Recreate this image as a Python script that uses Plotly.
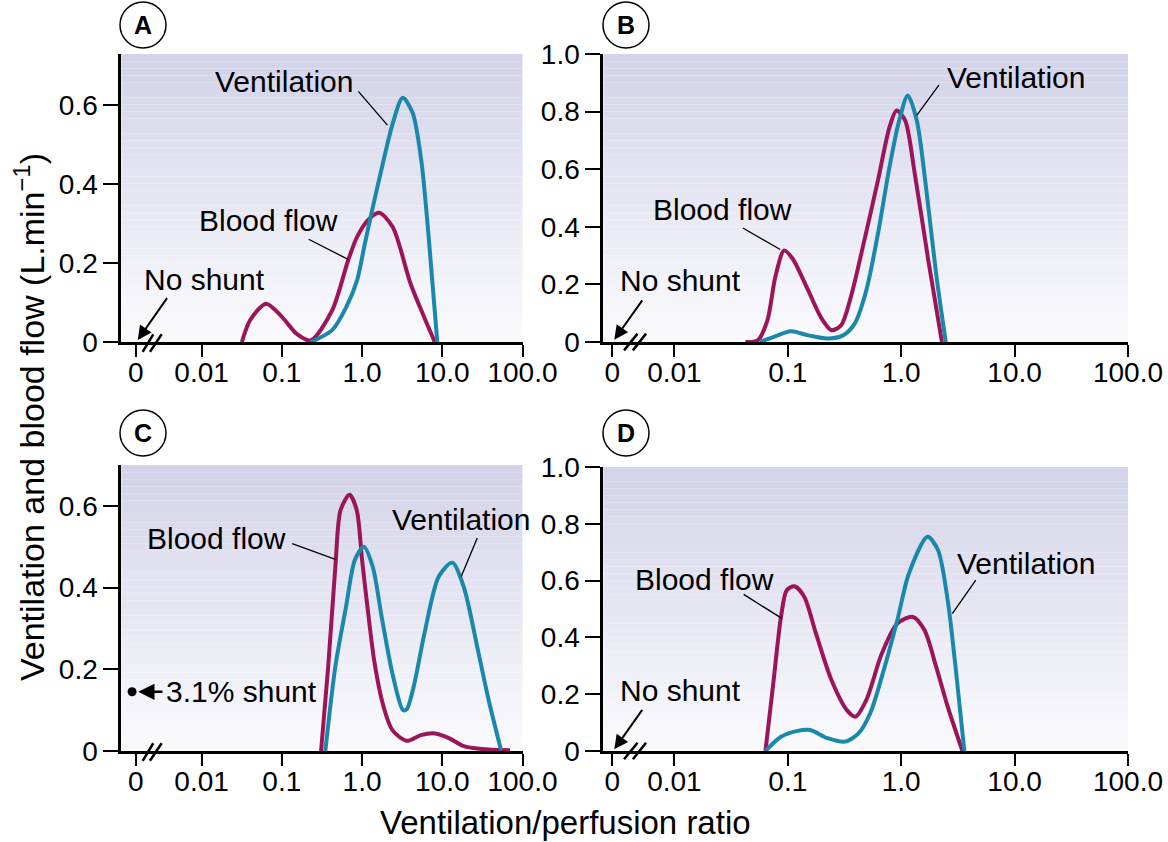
import plotly.graph_objects as go

W, H = 1168, 842

# ---------------- data (x = log10 of ventilation/perfusion ratio) ----------------
x_tick_labels = ["0", "0.01", "0.1", "1.0", "10.0", "100.0"]
x_ticks_ac = [-2.82, -2, -1, 0, 1, 2]
x_ticks_bd = [-2.547, -2, -1, 0, 1, 2]
y_ticks_ac = [0, 0.2, 0.4, 0.6]
y_labels_ac = ["0", "0.2", "0.4", "0.6"]
y_ticks_bd = [0, 0.2, 0.4, 0.6, 0.8, 1.0]
y_labels_bd = ["0", "0.2", "0.4", "0.6", "0.8", "1.0"]

# Panel A
a_blood_x = [-1.498, -1.396, -1.196, -0.996, -0.818, -0.64, -0.373, -0.173, -0.062, 0.071, 0.213, 0.382, 0.604, 0.782, 0.907]
a_blood_y = [0, 0.055, 0.097, 0.063, 0.021, 0.004, 0.080, 0.207, 0.266, 0.308, 0.327, 0.291, 0.148, 0.059, 0]
a_vent_x = [-0.64, -0.373, -0.196, -0.062, 0.027, 0.116, 0.249, 0.382, 0.507, 0.63, 0.738, 0.827, 0.938]
a_vent_y = [0, 0.030, 0.089, 0.156, 0.241, 0.325, 0.443, 0.553, 0.618, 0.580, 0.460, 0.274, 0]

# Panel B
b_blood_x = [-1.374, -1.265, -1.18, -1.11, -1.032, -0.957, -0.82, -0.701, -0.615, -0.53, -0.444, -0.325, -0.205, -0.103, -0.041, 0.034, 0.12, 0.239, 0.359]
b_blood_y = [0, 0.006, 0.075, 0.226, 0.318, 0.289, 0.179, 0.081, 0.041, 0.058, 0.156, 0.353, 0.561, 0.746, 0.804, 0.770, 0.584, 0.284, 0]
b_vent_x = [-1.248, -1.128, -0.974, -0.82, -0.65, -0.513, -0.41, -0.308, -0.205, -0.103, -0.017, 0.058, 0.137, 0.222, 0.308, 0.393]
b_vent_y = [0, 0.017, 0.037, 0.023, 0.012, 0.023, 0.064, 0.179, 0.376, 0.608, 0.770, 0.856, 0.770, 0.527, 0.237, 0]

# Panel C
c_blood_x = [-0.511, -0.422, -0.333, -0.267, -0.156, -0.067, 0.0, 0.067, 0.156, 0.267, 0.378, 0.556, 0.733, 0.911, 1.089, 1.267, 1.489, 1.844]
c_blood_y = [0, 0.207, 0.451, 0.590, 0.627, 0.590, 0.468, 0.353, 0.215, 0.109, 0.051, 0.025, 0.039, 0.043, 0.031, 0.012, 0.005, 0.002]
c_vent_x = [-0.458, -0.333, -0.2, -0.089, 0.022, 0.133, 0.244, 0.378, 0.511, 0.556, 0.644, 0.778, 0.956, 1.124, 1.267, 1.444, 1.578, 1.733]
c_vent_y = [0, 0.207, 0.353, 0.468, 0.500, 0.451, 0.329, 0.190, 0.100, 0.102, 0.158, 0.288, 0.427, 0.461, 0.402, 0.247, 0.125, 0.002]
c_shunt_x = [-2.867]
c_shunt_y = [0.145]

# Panel D
d_blood_x = [-1.197, -1.128, -1.06, -1.009, -0.94, -0.855, -0.752, -0.615, -0.479, -0.403, -0.308, -0.171, -0.034, 0.103, 0.205, 0.308, 0.41, 0.54]
d_blood_y = [0, 0.238, 0.472, 0.566, 0.580, 0.543, 0.414, 0.250, 0.144, 0.121, 0.179, 0.343, 0.449, 0.472, 0.426, 0.297, 0.156, 0]
d_vent_x = [-1.197, -1.06, -0.923, -0.803, -0.65, -0.496, -0.376, -0.274, -0.171, -0.034, 0.068, 0.232, 0.325, 0.41, 0.479, 0.557]
d_vent_y = [0, 0.050, 0.070, 0.074, 0.045, 0.033, 0.062, 0.132, 0.261, 0.461, 0.625, 0.754, 0.707, 0.531, 0.297, 0]

BLOOD = "#9b1558"
VENT = "#1a88ab"
FONT = "Liberation Sans, Arial, Helvetica, sans-serif"

# panel geometry in pixels: (x0, x1), (ytop, ybottom), x range, y range
panels = {
    "A": dict(px=(121.4, 522.5), py=(54, 342), xr=(-3, 2), yr=(0, 0.729), xt=x_ticks_ac, yt=y_ticks_ac, yl=y_labels_ac, ax=""),
    "B": dict(px=(603.4, 1128), py=(54, 342), xr=(-2.626, 2), yr=(0, 1.0), xt=x_ticks_bd, yt=y_ticks_bd, yl=y_labels_bd, ax="2"),
    "C": dict(px=(121.4, 522.5), py=(465, 751), xr=(-3, 2), yr=(0, 0.70), xt=x_ticks_ac, yt=y_ticks_ac, yl=y_labels_ac, ax="3"),
    "D": dict(px=(603.4, 1128), py=(467, 751), xr=(-2.626, 2), yr=(0, 1.0), xt=x_ticks_bd, yt=y_ticks_bd, yl=y_labels_bd, ax="4"),
}

curves = {
    "A": [(a_blood_x, a_blood_y, BLOOD), (a_vent_x, a_vent_y, VENT)],
    "B": [(b_blood_x, b_blood_y, BLOOD), (b_vent_x, b_vent_y, VENT)],
    "C": [(c_blood_x, c_blood_y, BLOOD), (c_vent_x, c_vent_y, VENT)],
    "D": [(d_blood_x, d_blood_y, BLOOD), (d_vent_x, d_vent_y, VENT)],
}

fig = go.Figure()
shapes = []
annotations = []

def to_paper(p, x, y):
    (x0, x1), (yt, yb) = p["px"], p["py"]
    fx = (x - p["xr"][0]) / (p["xr"][1] - p["xr"][0])
    fy = (y - p["yr"][0]) / (p["yr"][1] - p["yr"][0])
    return (x0 + fx * (x1 - x0)) / W, 1 - (yb - fy * (yb - yt)) / H

for key, p in panels.items():
    ax = p["ax"]
    xa = "xaxis" + ax
    ya = "yaxis" + ax
    (x0, x1), (yt, yb) = p["px"], p["py"]
    fig.update_layout(**{
        xa: dict(domain=[x0 / W, x1 / W], range=list(p["xr"]), anchor="y" + ax, automargin=False,
                 tickvals=p["xt"], ticktext=x_tick_labels, ticks="outside", ticklen=12,
                 tickwidth=1.5, tickcolor="black", showline=True, linewidth=3, linecolor="black",
                 showgrid=False, zeroline=False, ticklabelstandoff=-9,
                 tickfont=dict(size=28, color="black", family=FONT)),
        ya: dict(domain=[1 - yb / H, 1 - yt / H], range=list(p["yr"]), anchor="x" + ax, automargin=False,
                 tickvals=p["yt"], ticktext=p["yl"], ticks="outside", ticklen=15,
                 tickwidth=1.5, tickcolor="black", showline=True, linewidth=3, linecolor="black",
                 showgrid=False, zeroline=False, tickfont=dict(size=28, color="black", family=FONT)),
    })
    # gradient background
    n = 40
    for i in range(n):
        t = i / (n - 1)
        r = int(round(250 - (250 - 211) * t))
        g = int(round(250 - (250 - 211) * t))
        b = int(round(253 - (253 - 233) * t))
        shapes.append(dict(type="rect", xref="x" + ax + " domain", yref="y" + ax + " domain",
                           x0=0, x1=1, y0=i / n, y1=(i + 1) / n, layer="below",
                           line=dict(width=0), fillcolor=f"rgb({r},{g},{b})"))
    for cx, cy, col in curves[key]:
        fig.add_trace(go.Scatter(x=cx, y=cy, mode="lines", xaxis="x" + ax, yaxis="y" + ax,
                                 line=dict(color=col, width=4, shape="spline", smoothing=0.8),
                                 hoverinfo="skip", showlegend=False))

# shunt marker in panel C
fig.add_trace(go.Scatter(x=c_shunt_x, y=c_shunt_y, mode="markers", xaxis="x3", yaxis="y3",
                         marker=dict(color="black", size=9), cliponaxis=False, showlegend=False))

# axis break marks
breaks = {"A": [(-2.735, -0.025, -2.603, 0.0195), (-2.644, -0.025, -2.498, 0.0195)],
          "C": [(-2.735, -0.024, -2.603, 0.019), (-2.644, -0.024, -2.498, 0.019)],
          "B": [(-2.444, -0.029, -2.325, 0.029), (-2.366, -0.029, -2.25, 0.029)],
          "D": [(-2.444, -0.029, -2.325, 0.029), (-2.366, -0.029, -2.25, 0.029)]}
for key, segs in breaks.items():
    p = panels[key]
    for (bx0, by0, bx1, by1) in segs:
        px0, py0 = to_paper(p, bx0, by0)
        px1, py1 = to_paper(p, bx1, by1)
        shapes.append(dict(type="line", xref="paper", yref="paper", x0=px0, y0=py0, x1=px1, y1=py1,
                           line=dict(color="black", width=2.5)))

# text labels and leader lines: (panel, text, x, y, leader from(x,y) to(x,y))
labels = [
    ("A", "Ventilation", -0.978, 0.659, (-0.062, 0.638), (0.316, 0.549)),
    ("A", "Blood flow", -1.164, 0.307, (-0.684, 0.262), (-0.173, 0.209)),
    ("B", "Ventilation", 1.009, 0.918, (0.342, 0.897), (0.137, 0.787)),
    ("B", "Blood flow", -1.573, 0.461, (-1.409, 0.399), (-1.067, 0.321)),
    ("C", "Blood flow", -1.818, 0.519, (-0.889, 0.509), (-0.333, 0.469)),
    ("C", "Ventilation", 1.236, 0.566, (1.444, 0.525), (1.236, 0.427)),
    ("D", "Blood flow", -1.737, 0.605, (-1.402, 0.555), (-1.053, 0.467)),
    ("D", "Ventilation", 1.101, 0.660, (0.667, 0.607), (0.451, 0.484)),
]
for key, txt, tx, ty, l0, l1 in labels:
    ax = panels[key]["ax"]
    annotations.append(dict(text=txt, x=tx, y=ty, xref="x" + ax, yref="y" + ax, showarrow=False,
                            xanchor="center", yanchor="middle",
                            font=dict(size=30, color="black", family=FONT)))
    annotations.append(dict(text="", x=l1[0], y=l1[1], ax=l0[0], ay=l0[1], xref="x" + ax, yref="y" + ax,
                            axref="x" + ax, ayref="y" + ax, showarrow=True, arrowhead=0,
                            arrowwidth=1.3, arrowcolor="black", standoff=0, startstandoff=0))

# "No shunt" labels with arrows
for key, tx, ty, tail, head in [("A", -1.964, 0.159, (-2.418, 0.115), (-2.796, 0.005)),
                                ("B", -1.945, 0.212, (-2.274, 0.150), (-2.53, 0.008)),
                                ("D", -1.945, 0.212, (-2.274, 0.150), (-2.53, 0.006))]:
    ax = panels[key]["ax"]
    annotations.append(dict(text="No shunt", x=tx, y=ty, xref="x" + ax, yref="y" + ax, showarrow=False,
                            xanchor="center", yanchor="middle",
                            font=dict(size=30, color="black", family=FONT)))
    annotations.append(dict(text="", x=head[0], y=head[1], ax=tail[0], ay=tail[1], xref="x" + ax,
                            yref="y" + ax, axref="x" + ax, ayref="y" + ax, showarrow=True,
                            arrowhead=2, arrowsize=1.4, arrowwidth=2, arrowcolor="black", standoff=0))

# shunt label in C
annotations.append(dict(text="3.1% shunt", x=-1.502, y=0.145, xref="x3", yref="y3", showarrow=False,
                        xanchor="center", yanchor="middle",
                        font=dict(size=30, color="black", family=FONT)))
annotations.append(dict(text="", x=-2.79, y=0.145, ax=-2.47, ay=0.145, xref="x3", yref="y3",
                        axref="x3", ayref="y3", showarrow=True, arrowhead=2, arrowsize=1.3,
                        arrowwidth=2.5, arrowcolor="black", standoff=0))

# circled panel letters
for letter, cx, cy in [("A", 143, 25), ("B", 626, 25), ("C", 143, 433), ("D", 626, 433)]:
    r = 23
    shapes.append(dict(type="circle", xref="paper", yref="paper", x0=(cx - r) / W, x1=(cx + r) / W,
                       y0=1 - (cy + r) / H, y1=1 - (cy - r) / H, line=dict(color="black", width=1.5),
                       fillcolor="white"))
    annotations.append(dict(text="<b>" + letter + "</b>", x=cx / W, y=1 - cy / H, xref="paper", yref="paper",
                            xanchor="center", yanchor="middle", showarrow=False,
                            font=dict(size=25, color="black", family=FONT)))

# axis titles
annotations.append(dict(text="Ventilation/perfusion ratio", x=565 / W, y=1 - 822 / H, xref="paper",
                        yref="paper", showarrow=False, xanchor="center", yanchor="middle",
                        font=dict(size=33, color="black", family=FONT)))
annotations.append(dict(text="Ventilation and blood flow (L.min<sup>\u22121</sup>)", x=29 / W, y=1 - 417 / H,
                        xref="paper", yref="paper", showarrow=False, textangle=-90,
                        xanchor="center", yanchor="middle",
                        font=dict(size=34, color="black", family=FONT)))

fig.update_layout(width=W, height=H, margin=dict(l=0, r=0, t=0, b=0), paper_bgcolor="white",
                  plot_bgcolor="rgba(0,0,0,0)", showlegend=False, shapes=shapes, annotations=annotations,
                  font=dict(family=FONT, color="black"))

fig.write_html("out.html", config={"displayModeBar": False},
               post_script="document.body.style.margin='0';document.body.style.overflow='hidden';")
